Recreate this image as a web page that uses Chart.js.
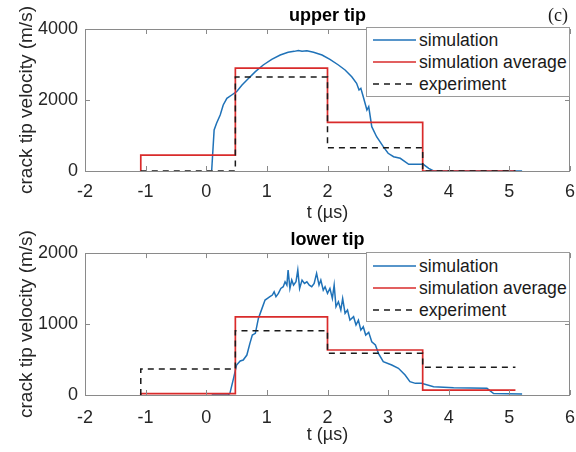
<!DOCTYPE html>
<html>
<head>
<meta charset="utf-8">
<script src="https://cdn.jsdelivr.net/npm/chart.js@4.4.1/dist/chart.umd.min.js"></script>
<style>
  body { margin: 0; background: #fff; }
  #wrap { position: relative; width: 576px; height: 452px; overflow: hidden; font-family: "Liberation Sans", Arial, sans-serif; }
  canvas { position: absolute; left: 0; }
  .legend { position: absolute; left: 366px; width: 204px; height: 70px; box-sizing: border-box; border: 1px solid #9a9a9a; background: #fff; padding-top: 1px; }
  .legend .row { height: 22px; display: flex; align-items: center; font-size: 17.6px; color: #1a1a1a; }
  .legend svg { flex: none; }
  .legend span { margin-left: 3px; white-space: nowrap; }
  #tag { position: absolute; left: 548px; top: 5px; font: 18px "Liberation Serif", "Times New Roman", serif; color: #1a1a1a; }
</style>
</head>
<body>
<div id="wrap">
  <canvas id="upper" width="576" height="226" style="top:0"></canvas>
  <canvas id="lower" width="576" height="226" style="top:226px"></canvas>
  <div class="legend" id="legUpper" style="top:27px"></div>
  <div class="legend" id="legLower" style="top:252px;padding-top:2px"></div>
  <div id="tag">(c)</div>
</div>
<script>
// series names
const seriesLabels = ['simulation', 'simulation average', 'experiment'];

// upper tip, simulation (t in µs, velocity in m/s)
const upperSimT = [0.09, 0.13, 0.17, 0.23, 0.28, 0.34, 0.42, 0.50, 0.59, 0.70, 0.81, 0.94, 1.08, 1.22, 1.35,
  1.45, 1.52, 1.58, 1.66, 1.77, 1.91, 2.04, 2.18, 2.29, 2.40, 2.48, 2.52, 2.55, 2.59, 2.65, 2.68, 2.73,
  2.81, 2.92, 3.00, 3.09, 3.20, 3.34, 3.58, 3.67, 3.75, 5.21];
const upperSimV = [20, 1155, 1343, 1577, 1859, 2047, 2141, 2235, 2423, 2611, 2798, 2986, 3146, 3268, 3343,
  3370, 3395, 3375, 3385, 3343, 3268, 3146, 2986, 2845, 2656, 2470, 2282, 2330, 2093, 1718, 1812, 1248,
  966, 685, 499, 403, 358, 189, 189, 75, 0, 0];

// lower tip, simulation
const lowerSimT = [0.09, 0.36, 0.39, 0.45, 0.50, 0.56, 0.61, 0.67, 0.72, 0.76, 0.81, 0.86, 0.92, 0.97, 1.01,
  1.05, 1.09, 1.12, 1.15, 1.19, 1.23, 1.27, 1.30, 1.33, 1.35, 1.38, 1.41, 1.44, 1.48, 1.51, 1.54, 1.58,
  1.62, 1.66, 1.70, 1.74, 1.78, 1.82, 1.86, 1.89, 1.93, 1.96, 2.00, 2.04, 2.08, 2.11, 2.14, 2.18, 2.22,
  2.25, 2.29, 2.33, 2.37, 2.43, 2.47, 2.51, 2.55, 2.59, 2.63, 2.68, 2.73, 2.79, 2.84, 2.92, 3.06, 3.17,
  3.28, 3.36, 3.45, 3.55, 3.75, 4.08, 4.63, 4.74, 5.21];
const lowerSimV = [0, 0, 23, 235, 422, 479, 493, 563, 728, 845, 869, 1080, 1221, 1338, 1361,
  1385, 1408, 1455, 1385, 1432, 1502, 1526, 1596, 1549, 1761, 1502, 1620, 1549, 1596, 1761, 1502, 1620,
  1573, 1596, 1549, 1526, 1573, 1714, 1549, 1620, 1479, 1526, 1432, 1502, 1361, 1549, 1244, 1314, 1197,
  1361, 1150, 1197, 1056, 1103, 986, 1056, 915, 962, 845, 883, 751, 704, 587, 469, 422, 376,
  282, 188, 164, 164, 117, 103, 94, 20, 14];

// interval averages: edges of the time windows and the level in each window
const stepEdges = [-1.08, 0.48, 2.0, 3.57, 5.1];
const upperAvgLevels = [450, 2900, 1370, 0];
const upperExpLevels = [0, 2650, 656, 0];
const lowerAvgLevels = [20, 1100, 634, 70];
const lowerExpLevels = [366, 906, 587, 390];

const textColor = '#262626';
const axisColor = '#8a8a8a';
const fontFamily = '"Liberation Sans", Arial, sans-serif';
const styles = [
  { color: '#1f72b8', width: 1.5, dash: [] },
  { color: '#d92b2b', width: 1.7, dash: [] },
  { color: '#1a1a1a', width: 1.5, dash: [6, 5] }
];

function toPoints(ts, vs) {
  return ts.map((t, i) => ({ x: t, y: vs[i] }));
}

function stairs(edges, levels) {
  const pts = [{ x: edges[0], y: 0 }];
  levels.forEach((lv, i) => {
    pts.push({ x: edges[i], y: lv });
    pts.push({ x: edges[i + 1], y: lv });
  });
  return pts;
}

// box round the axes with inward tick marks, matlab style
const boxTicks = {
  id: 'boxTicks',
  afterDraw(chart) {
    const { ctx, chartArea: a, scales: { x, y } } = chart;
    const len = 5;
    ctx.save();
    ctx.strokeStyle = axisColor;
    ctx.lineWidth = 1;
    ctx.beginPath();
    x.ticks.forEach(t => {
      const px = Math.round(x.getPixelForValue(t.value)) + 0.5;
      ctx.moveTo(px, a.bottom); ctx.lineTo(px, a.bottom - len);
      ctx.moveTo(px, a.top); ctx.lineTo(px, a.top + len);
    });
    y.ticks.forEach(t => {
      const py = Math.round(y.getPixelForValue(t.value)) + 0.5;
      ctx.moveTo(a.left, py); ctx.lineTo(a.left + len, py);
      ctx.moveTo(a.right, py); ctx.lineTo(a.right - len, py);
    });
    ctx.stroke();
    ctx.strokeRect(Math.round(a.left) + 0.5, Math.round(a.top) + 0.5, Math.round(a.width) - 1, Math.round(a.height));
    ctx.restore();
  }
};

function makePlot(id, p) {
  const data = [p.sim, p.avg, p.exp];
  return new Chart(document.getElementById(id), {
    type: 'line',
    data: {
      datasets: data.map((d, i) => ({
        label: seriesLabels[i],
        data: d,
        borderColor: styles[i].color,
        borderWidth: styles[i].width,
        borderDash: styles[i].dash,
        pointRadius: 0,
        tension: 0,
        fill: false,
        order: 3 - i
      }))
    },
    options: {
      responsive: false,
      animation: false,
      devicePixelRatio: 1,
      layout: { padding: { left: 0, right: 6, top: 0, bottom: p.padBottom } },
      plugins: {
        legend: { display: false },
        tooltip: { enabled: false },
        title: {
          display: true, text: p.title, fullSize: false, color: '#000',
          font: { family: fontFamily, size: 18, weight: 'bold' },
          padding: { top: p.titleTop, bottom: p.titleBottom }
        }
      },
      scales: {
        x: {
          type: 'linear', min: -2, max: 6,
          grid: { display: false, drawTicks: true, tickLength: p.xTickGap },
          border: { display: false },
          ticks: { stepSize: 1, padding: 0, color: textColor, font: { family: fontFamily, size: 18 }, callback: v => String(v) },
          title: { display: true, text: 't (µs)', color: textColor, font: { family: fontFamily, size: 18 }, padding: { top: 0, bottom: 2 } },
          afterFit(s) { s.height = p.xHeight; }
        },
        y: {
          min: 0, max: p.yMax,
          grid: { display: false, drawTicks: false },
          border: { display: false },
          ticks: { stepSize: p.yStep, padding: 7, color: textColor, font: { family: fontFamily, size: 18 }, callback: v => String(v) },
          title: { display: true, text: 'crack tip velocity (m/s)', color: textColor, font: { family: fontFamily, size: 19 }, padding: { top: 15, bottom: 0 } },
          afterFit(s) { s.width = 85; }
        }
      }
    },
    plugins: [boxTicks]
  });
}

function buildLegend(id) {
  const el = document.getElementById(id);
  el.innerHTML = seriesLabels.map((lab, i) => {
    const s = styles[i];
    return '<div class="row"><svg width="49" height="6"><line x1="6" y1="3" x2="49" y2="3" stroke="' + s.color +
      '" stroke-width="' + s.width + '" stroke-dasharray="' + (s.dash.length ? s.dash.join(' ') : 'none') +
      '"/></svg><span>' + lab + '</span></div>';
  }).join('');
}

makePlot('upper', {
  title: 'upper tip', yMax: 4000, yStep: 2000,
  sim: toPoints(upperSimT, upperSimV),
  avg: stairs(stepEdges, upperAvgLevels),
  exp: stairs(stepEdges, upperExpLevels),
  padBottom: 0, xHeight: 55, xTickGap: 10, titleTop: 5, titleBottom: 2.4
});

makePlot('lower', {
  title: 'lower tip', yMax: 2000, yStep: 1000,
  sim: toPoints(lowerSimT, lowerSimV),
  avg: stairs(stepEdges, lowerAvgLevels),
  exp: stairs(stepEdges, lowerExpLevels),
  padBottom: 4, xHeight: 53, xTickGap: 12, titleTop: 3.5, titleBottom: 2
});

buildLegend('legUpper');
buildLegend('legLower');
</script>
</body>
</html>
